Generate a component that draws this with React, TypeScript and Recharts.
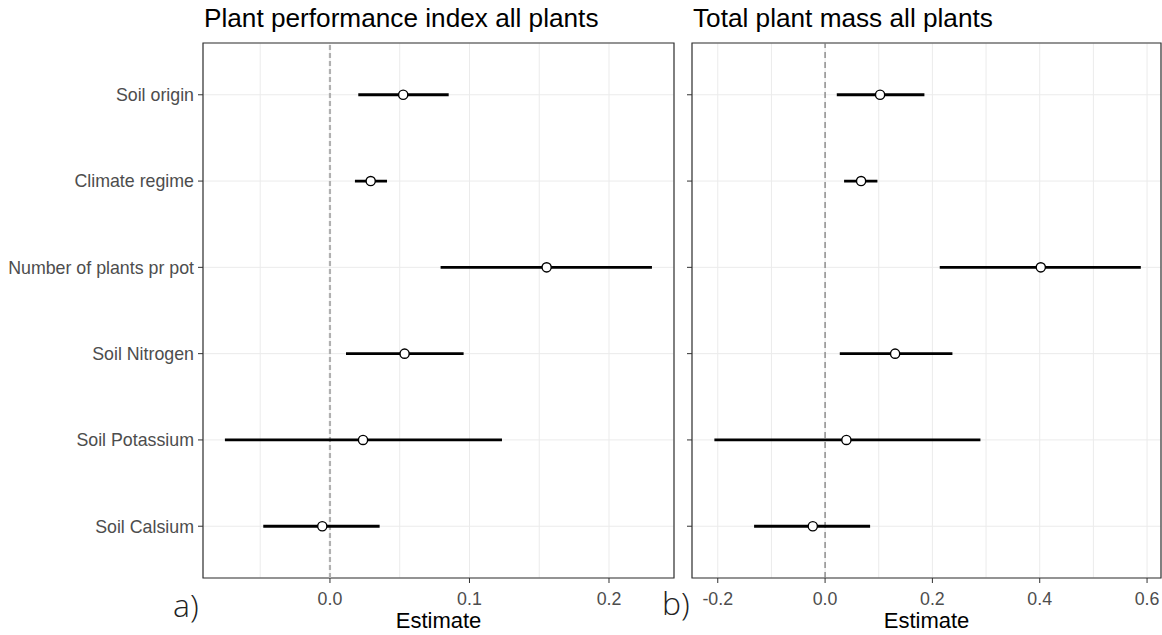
import { ScatterChart, Scatter, XAxis, YAxis, CartesianGrid, ErrorBar, ReferenceLine, ReferenceArea } from 'recharts';

// model terms, top to bottom
const terms = ['Soil origin', 'Climate regime', 'Number of plants pr pot', 'Soil Nitrogen', 'Soil Potassium', 'Soil Calsium'];

// a) plant performance index
const ppiEst = [0.0525, 0.0292, 0.1553, 0.0535, 0.0237, -0.0055];
const ppiLow = [0.0203, 0.0179, 0.0793, 0.0115, -0.0753, -0.0478];
const ppiHigh = [0.0851, 0.0409, 0.2308, 0.0958, 0.1233, 0.0356];
const ppiTicks = [0, 0.1, 0.2];
const ppiGrid = [-0.05, 0, 0.05, 0.1, 0.15, 0.2];

// b) total plant mass
const massEst = [0.1025, 0.0671, 0.402, 0.1305, 0.0397, -0.0229];
const massLow = [0.0218, 0.0354, 0.2137, 0.0274, -0.2063, -0.1323];
const massHigh = [0.1851, 0.0975, 0.5884, 0.2373, 0.2895, 0.0839];
const massTicks = [-0.2, 0, 0.2, 0.4, 0.6];
const massGrid = [-0.2, -0.1, 0, 0.1, 0.2, 0.3, 0.4, 0.5, 0.6];

const rowTicks = [1, 2, 3, 4, 5, 6];
const Y_DOMAIN: [number, number] = [0.4, 6.6];
const FONT = '"Liberation Sans", Arial, sans-serif';

const buildRows = (est: number[], low: number[], high: number[]) =>
  terms.map((term, i) => ({
    term,
    row: terms.length - i,
    est: est[i],
    err: [est[i] - low[i], high[i] - est[i]],
  }));

const termForRow = (v: number) => terms[terms.length - v] ?? '';

const Dot = (props: any) => {
  const { cx, cy } = props;
  return <circle cx={cx} cy={cy} r={4.6} fill="#fff" stroke="#000" strokeWidth={1.4} />;
};

interface PanelProps {
  data: ReturnType<typeof buildRows>;
  domain: [number, number];
  ticks: number[];
  grid: number[];
  width: number;
  yWidth: number;
  showLabels: boolean;
  zeroStroke: string;
  zeroWidth: number;
  zeroDash: string;
}

function Panel({ data, domain, ticks, grid, width, yWidth, showLabels, zeroStroke, zeroWidth, zeroDash }: PanelProps) {
  return (
    <ScatterChart width={width} height={635} margin={{ top: 43, right: width === 680 ? 6 : 1, bottom: 0, left: 0 }}>
      <CartesianGrid xAxisId="grid" stroke="#ebebeb" strokeWidth={1} />
      <XAxis xAxisId="grid" type="number" dataKey="est" domain={domain} ticks={grid} allowDataOverflow hide />
      <XAxis
        type="number"
        dataKey="est"
        domain={domain}
        ticks={ticks}
        allowDataOverflow
        interval={0}
        height={57}
        axisLine={false}
        tickLine={{ stroke: '#333' }}
        tickSize={5}
        tickMargin={9}
        tick={{ fontSize: 17.8, fill: '#4d4d4d', fontFamily: FONT }}
        tickFormatter={(v: number) => v.toFixed(1)}
        label={{ value: 'Estimate', position: 'insideBottom', offset: 7, fontSize: 22, fill: '#000', fontFamily: FONT }}
      />
      <YAxis
        type="number"
        dataKey="row"
        domain={Y_DOMAIN}
        ticks={rowTicks}
        interval={0}
        width={yWidth}
        axisLine={false}
        tickLine={{ stroke: '#333' }}
        tickSize={5}
        tickMargin={4}
        tick={{ fontSize: 17.8, fill: '#4d4d4d', fontFamily: FONT }}
        tickFormatter={(v: number) => (showLabels ? termForRow(v) : '')}
      />
      <ReferenceLine x={0} stroke={zeroStroke} strokeWidth={zeroWidth} strokeDasharray={zeroDash} />
      <Scatter data={data} dataKey="est" shape={<Dot />} isAnimationActive={false}>
        <ErrorBar dataKey="err" direction="x" width={0} stroke="#000" strokeWidth={2.8} />
      </Scatter>
      <ReferenceArea
        x1={domain[0]}
        x2={domain[1]}
        y1={Y_DOMAIN[0]}
        y2={Y_DOMAIN[1]}
        fill="none"
        fillOpacity={0}
        stroke="#333"
        strokeWidth={1.2}
      />
    </ScatterChart>
  );
}

export default function App() {
  const ppiRows = buildRows(ppiEst, ppiLow, ppiHigh);
  const massRows = buildRows(massEst, massLow, massHigh);

  return (
    <div style={{ position: 'absolute', left: 0, top: 0, width: 1162, height: 635, background: '#fff', fontFamily: FONT }}>
      <div style={{ position: 'absolute', left: 0, top: 0 }}>
        <Panel
          data={ppiRows}
          domain={[-0.091, 0.2466]}
          ticks={ppiTicks}
          grid={ppiGrid}
          width={680}
          yWidth={203}
          showLabels
          zeroStroke="#b0b0b0"
          zeroWidth={2.2}
          zeroDash="5 3"
        />
      </div>
      <div style={{ position: 'absolute', left: 680, top: 0 }}>
        <Panel
          data={massRows}
          domain={[-0.248, 0.626]}
          ticks={massTicks}
          grid={massGrid}
          width={482}
          yWidth={12}
          showLabels={false}
          zeroStroke="#7f7f7f"
          zeroWidth={1.3}
          zeroDash="6 4"
        />
      </div>
      <div style={{ position: 'absolute', left: 204, top: 5, fontSize: 26.2, lineHeight: '26px', color: '#000', whiteSpace: 'nowrap' }}>
        Plant performance index all plants
      </div>
      <div style={{ position: 'absolute', left: 693, top: 5, fontSize: 26.2, lineHeight: '26px', color: '#000', whiteSpace: 'nowrap' }}>
        Total plant mass all plants
      </div>
      <div style={{ position: 'absolute', left: 173, top: 585, fontSize: 32, lineHeight: '40px', color: '#222', fontFamily: '"Open Sans", sans-serif', fontWeight: 300 }}>
        a)
      </div>
      <div style={{ position: 'absolute', left: 662, top: 583, fontSize: 32, lineHeight: '40px', color: '#222', fontFamily: '"Open Sans", sans-serif', fontWeight: 300 }}>
        b)
      </div>
    </div>
  );
}
